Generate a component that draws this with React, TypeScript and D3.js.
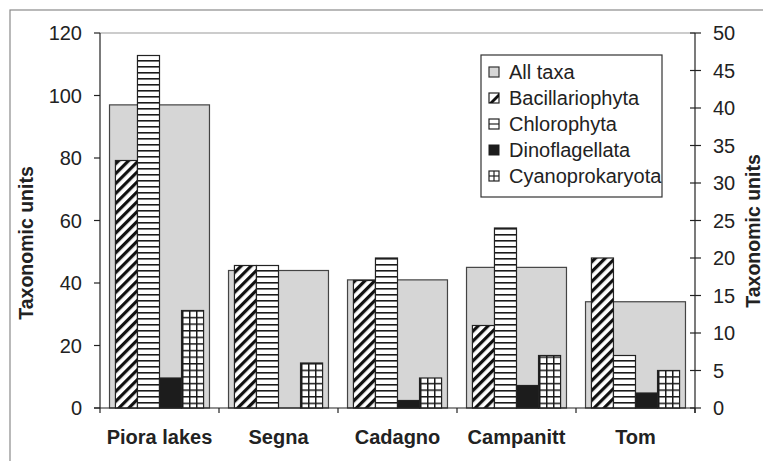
import * as d3 from "d3";

const categories = ["Piora lakes", "Segna", "Cadagno", "Campanitt", "Tom"];
const allTaxa = [97, 44, 41, 45, 34];
const bacillariophyta = [33, 19, 17, 11, 20];
const chlorophyta = [47, 19, 20, 24, 7];
const dinoflagellata = [4, 0, 1, 3, 2];
const cyanoprokaryota = [13, 6, 4, 7, 5];
const leftTicks = [0, 20, 40, 60, 80, 100, 120];
const rightTicks = [0, 5, 10, 15, 20, 25, 30, 35, 40, 45, 50];

const groups = [
  { name: "Bacillariophyta", values: bacillariophyta, fill: "url(#diag)" },
  { name: "Chlorophyta", values: chlorophyta, fill: "url(#horiz)" },
  { name: "Dinoflagellata", values: dinoflagellata, fill: "#1c1c1c" },
  { name: "Cyanoprokaryota", values: cyanoprokaryota, fill: "url(#grid)" },
];

const W = 763;
const H = 461;
const left = 100;
const right = 695;
const top = 33;
const bottom = 408;
const font = "'Liberation Sans', Arial, sans-serif";

const App = () => {
  const x = d3.scaleBand().domain(categories).range([left, right]);
  const bw = x.bandwidth();
  const sub = d3
    .scaleBand()
    .domain(groups.map((g) => g.name))
    .range([0, bw])
    .paddingOuter(0.7);
  const yL = d3.scaleLinear().domain([0, 120]).range([bottom, top]);
  const yR = d3.scaleLinear().domain([0, 50]).range([bottom, top]);
  const allW = bw * 0.84;

  const legendItems = ["All taxa", ...groups.map((g) => g.name)];

  const marker = (name: string, mx: number, my: number) => {
    const s = 10;
    if (name === "All taxa")
      return <rect x={mx} y={my} width={s} height={s} fill="#d6d6d6" stroke="#333" strokeWidth={1.2} />;
    if (name === "Bacillariophyta")
      return (
        <g>
          <rect x={mx} y={my} width={s} height={s} fill="#fff" stroke="#222" strokeWidth={1.2} />
          <polygon points={`${mx},${my + s} ${mx + s},${my} ${mx + s},${my + 4} ${mx + 4},${my + s}`} fill="#111" />
        </g>
      );
    if (name === "Chlorophyta")
      return (
        <g>
          <rect x={mx} y={my} width={s} height={s} fill="#fff" stroke="#222" strokeWidth={1.2} />
          <line x1={mx} x2={mx + s} y1={my + s / 2} y2={my + s / 2} stroke="#222" strokeWidth={1.2} />
        </g>
      );
    if (name === "Dinoflagellata")
      return <rect x={mx} y={my} width={s} height={s} fill="#1c1c1c" stroke="#1c1c1c" />;
    return (
      <g>
        <rect x={mx} y={my} width={s} height={s} fill="#fff" stroke="#222" strokeWidth={1.2} />
        <line x1={mx} x2={mx + s} y1={my + s / 2} y2={my + s / 2} stroke="#222" strokeWidth={1.2} />
        <line x1={mx + s / 2} x2={mx + s / 2} y1={my} y2={my + s} stroke="#222" strokeWidth={1.2} />
      </g>
    );
  };

  return (
    <svg
      width={W}
      height={H}
      style={{ position: "absolute", left: 0, top: 0, background: "#fff" }}
      fontFamily={font}
    >
      <defs>
        <pattern id="diag" patternUnits="userSpaceOnUse" width={7} height={7} patternTransform="rotate(45)">
          <rect width={7} height={7} fill="#fff" />
          <rect x={0} width={3.2} height={7} fill="#111" />
        </pattern>
        <pattern id="horiz" patternUnits="userSpaceOnUse" width={8} height={6}>
          <rect width={8} height={6} fill="#fff" />
          <rect y={0} width={8} height={1.6} fill="#1a1a1a" />
        </pattern>
        <pattern id="grid" patternUnits="userSpaceOnUse" width={7} height={6.6}>
          <rect width={7} height={6.6} fill="#fff" />
          <rect y={0} width={7} height={1.5} fill="#1a1a1a" />
          <rect x={0} width={1.5} height={6.6} fill="#1a1a1a" />
        </pattern>
      </defs>

      <rect x={10} y={10} width={800} height={500} fill="#fff" stroke="#8a8a8a" strokeWidth={1.2} />

      <line x1={left} x2={right} y1={top} y2={top} stroke="#999" strokeWidth={1} />

      {categories.map((c, i) => (
        <rect
          key={c}
          x={x(c)! + (bw - allW) / 2}
          y={yL(allTaxa[i])}
          width={allW}
          height={bottom - yL(allTaxa[i])}
          fill="#d6d6d6"
          stroke="#444"
          strokeWidth={1.2}
        />
      ))}

      {groups.map((g) =>
        categories.map((c, i) =>
          g.values[i] > 0 ? (
            <rect
              key={g.name + c}
              x={x(c)! + sub(g.name)!}
              y={yR(g.values[i])}
              width={sub.bandwidth()}
              height={bottom - yR(g.values[i])}
              fill={g.fill}
              stroke="#222"
              strokeWidth={1.2}
            />
          ) : null
        )
      )}

      {/* left axis */}
      <line x1={left} x2={left} y1={top} y2={bottom} stroke="#222" strokeWidth={1.2} />
      {leftTicks.map((t) => (
        <g key={t}>
          <line x1={left - 6} x2={left} y1={yL(t)} y2={yL(t)} stroke="#222" strokeWidth={1.2} />
          <text x={82} y={yL(t)} dy="0.36em" textAnchor="end" fontSize={20} fill="#222">
            {t}
          </text>
        </g>
      ))}

      {/* right axis */}
      <line x1={right} x2={right} y1={top} y2={bottom + 5} stroke="#222" strokeWidth={1.2} />
      {rightTicks.map((t) => (
        <g key={t}>
          <line x1={right - 5} x2={right + 6} y1={yR(t)} y2={yR(t)} stroke="#222" strokeWidth={1.2} />
          <text x={713} y={yR(t)} dy="0.36em" textAnchor="start" fontSize={20} fill="#222">
            {t}
          </text>
        </g>
      ))}

      {/* x axis */}
      <line x1={left - 6} x2={right} y1={bottom} y2={bottom} stroke="#222" strokeWidth={1.2} />
      {[...categories.map((c) => x(c)!), right].map((v, i) => (
        <line key={i} x1={v} x2={v} y1={bottom} y2={bottom + 5} stroke="#222" strokeWidth={1.2} />
      ))}
      {categories.map((c) => (
        <text key={c} x={x(c)! + bw / 2} y={444} textAnchor="middle" fontSize={20} fontWeight="bold" fill="#222">
          {c}
        </text>
      ))}

      <text transform="translate(33,243) rotate(-90)" textAnchor="middle" fontSize={19.5} fontWeight="bold" fill="#222">
        Taxonomic units
      </text>
      <text transform="translate(760,231) rotate(-90)" textAnchor="middle" fontSize={19.5} fontWeight="bold" fill="#222">
        Taxonomic units
      </text>

      {/* legend */}
      <rect x={481} y={55} width={181} height={142} fill="#fff" stroke="#333" strokeWidth={1.2} />
      {legendItems.map((name, i) => {
        const cy = 72 + i * 26;
        return (
          <g key={name}>
            {marker(name, 489, cy - 5)}
            <text x={509} y={cy} dy="0.36em" fontSize={20} fill="#222">
              {name}
            </text>
          </g>
        );
      })}
    </svg>
  );
};

export default App;
